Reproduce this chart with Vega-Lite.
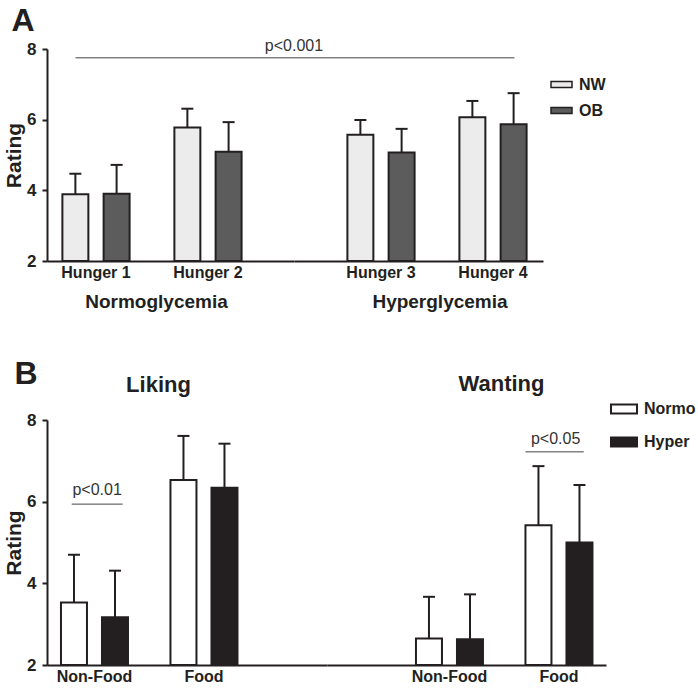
{
  "$schema": "https://vega.github.io/schema/vega-lite/v6.json",
  "padding": {"left": 3, "top": 4, "right": 0, "bottom": 0},
  "background": "white",
  "config": {
    "font": "Liberation Sans",
    "view": {"stroke": null},
    "axis": {
      "domainColor": "#231f20", "domainWidth": 2, "tickColor": "#231f20", "tickWidth": 2, "tickSize": 5,
      "labelFont": "Liberation Sans", "labelFontWeight": "bold", "labelColor": "#231f20",
      "titleFont": "Liberation Sans", "titleFontWeight": "bold", "titleColor": "#231f20", "grid": false
    },
    "axisX": {"ticks": false, "labelAngle": 0, "labelFontSize": 16, "labelPadding": 3, "titleFontSize": 19, "titlePadding": 12},
    "axisY": {"labelFontSize": 17, "labelPadding": 6, "titleFontSize": 21, "titlePadding": 2},
    "legend": {"labelFont": "Liberation Sans", "labelFontWeight": "bold", "labelFontSize": 16, "labelColor": "#231f20"},
    "title": {"font": "Liberation Sans", "fontWeight": "bold", "color": "#231f20"}
  },
  "datasets": {
    "hunger": [
      {"cond": "Normoglycemia", "time": "Hunger 1", "group": "NW", "mean": 3.89, "upper": 4.47},
      {"cond": "Normoglycemia", "time": "Hunger 1", "group": "OB", "mean": 3.9, "upper": 4.72},
      {"cond": "Normoglycemia", "time": "Hunger 2", "group": "NW", "mean": 5.78, "upper": 6.31},
      {"cond": "Normoglycemia", "time": "Hunger 2", "group": "OB", "mean": 5.09, "upper": 5.93},
      {"cond": "Hyperglycemia", "time": "Hunger 3", "group": "NW", "mean": 5.57, "upper": 5.99},
      {"cond": "Hyperglycemia", "time": "Hunger 3", "group": "OB", "mean": 5.07, "upper": 5.74},
      {"cond": "Hyperglycemia", "time": "Hunger 4", "group": "NW", "mean": 6.07, "upper": 6.53},
      {"cond": "Hyperglycemia", "time": "Hunger 4", "group": "OB", "mean": 5.87, "upper": 6.75}
    ],
    "rating": [
      {"measure": "Liking", "stim": "Non-Food", "glyc": "Normo", "mean": 3.53, "upper": 4.7},
      {"measure": "Liking", "stim": "Non-Food", "glyc": "Hyper", "mean": 3.17, "upper": 4.31},
      {"measure": "Liking", "stim": "Food", "glyc": "Normo", "mean": 6.53, "upper": 7.61},
      {"measure": "Liking", "stim": "Food", "glyc": "Hyper", "mean": 6.34, "upper": 7.42},
      {"measure": "Wanting", "stim": "Non-Food", "glyc": "Normo", "mean": 2.65, "upper": 3.67},
      {"measure": "Wanting", "stim": "Non-Food", "glyc": "Hyper", "mean": 2.63, "upper": 3.73},
      {"measure": "Wanting", "stim": "Food", "glyc": "Normo", "mean": 5.42, "upper": 6.87},
      {"measure": "Wanting", "stim": "Food", "glyc": "Hyper", "mean": 5.0, "upper": 6.41}
    ],
    "sig": [
      {"panel": "A1", "time": "Hunger 1", "label": "p<0.001", "y": 7.75},
      {"panel": "A2", "time": "Hunger 4", "label": "p<0.001", "y": 7.75},
      {"panel": "B1", "stim": "Non-Food", "label": "p<0.01", "y": 5.94},
      {"panel": "B2", "stim": "Food", "label": "p<0.05", "y": 7.22}
    ]
  },
  "vconcat": [
    {
      "title": {"text": "A", "fontSize": 32, "anchor": "start", "dx": 8, "offset": 0},
      "spacing": 0,
      "bounds": "flush",
      "resolve": {"scale": {"fill": "independent", "xOffset": "independent"}, "legend": {"fill": "independent"}},
      "hconcat": [
        {
          "width": 247, "height": 212,
          "layer": [
            {
              "data": {"name": "hunger"},
              "transform": [{"filter": "datum.cond === 'Normoglycemia'"}],
              "layer": [
                {
                  "mark": {"type": "bar", "stroke": "#231f20", "strokeWidth": 2},
                  "encoding": {
                    "x": {"field": "time", "type": "nominal", "scale": {"domain": ["Hunger 1", "Hunger 2"], "paddingInner": 0.4, "paddingOuter": 0.3027, "align": 0.227}, "axis": {"title": "Normoglycemia", "titleX": 109}},
                    "xOffset": {"field": "group", "type": "nominal", "scale": {"domain": ["NW", "OB"], "paddingInner": 0.37, "paddingOuter": 0}},
                    "y": {"field": "mean", "type": "quantitative", "scale": {"domain": [2, 8], "nice": false, "zero": false}, "axis": {"title": "Rating", "values": [2, 4, 6, 8]}},
                    "y2": {"datum": 2},
                    "fill": {"field": "group", "type": "nominal", "scale": {"domain": ["NW", "OB"], "range": ["#ececec", "#5c5c5c"]}, "legend": null}
                  }
                },
                {
                  "mark": {"type": "rule", "color": "#231f20", "strokeWidth": 2},
                  "encoding": {
                    "x": {"field": "time", "type": "nominal"},
                    "xOffset": {"field": "group", "type": "nominal"},
                    "y": {"field": "mean", "type": "quantitative"},
                    "y2": {"field": "upper"}
                  }
                },
                {
                  "mark": {"type": "tick", "color": "#231f20", "thickness": 2, "size": 12, "orient": "horizontal", "opacity": 1},
                  "encoding": {
                    "x": {"field": "time", "type": "nominal"},
                    "xOffset": {"field": "group", "type": "nominal"},
                    "y": {"field": "upper", "type": "quantitative"}
                  }
                }
              ]
            },
            {
              "data": {"name": "sig"},
              "transform": [{"filter": "datum.panel === 'A1'"}],
              "layer": [
                {
                  "mark": {"type": "rule", "color": "#444444", "strokeWidth": 1},
                  "encoding": {
                    "x": {"field": "time", "type": "nominal", "bandPosition": 0.195},
                    "x2": {"value": "width"},
                    "y": {"field": "y", "type": "quantitative"}
                  }
                },
                {
                  "mark": {"type": "text", "fontSize": 16, "color": "#333333", "baseline": "alphabetic", "dy": -7},
                  "encoding": {
                    "x": {"value": "width"},
                    "y": {"field": "y", "type": "quantitative"},
                    "text": {"field": "label"}
                  }
                }
              ]
            }
          ]
        },
        {
          "width": 249, "height": 212,
          "layer": [
            {
              "data": {"name": "hunger"},
              "transform": [{"filter": "datum.cond === 'Hyperglycemia'"}],
              "layer": [
                {
                  "mark": {"type": "bar", "stroke": "#231f20", "strokeWidth": 2},
                  "encoding": {
                    "x": {"field": "time", "type": "nominal", "scale": {"domain": ["Hunger 3", "Hunger 4"], "paddingInner": 0.4, "paddingOuter": 0.3116, "align": 0.765}, "axis": {"title": "Hyperglycemia", "titleX": 145.5}},
                    "xOffset": {"field": "group", "type": "nominal", "scale": {"domain": ["NW", "OB"], "paddingInner": 0.37, "paddingOuter": 0}},
                    "y": {"field": "mean", "type": "quantitative", "scale": {"domain": [2, 8], "nice": false, "zero": false}, "axis": null},
                    "y2": {"datum": 2},
                    "fill": {"field": "group", "type": "nominal", "scale": {"domain": ["NW", "OB"], "range": ["#ececec", "#5c5c5c"]},
                      "legend": {"title": null, "orient": "none", "legendX": 256, "legendY": 24, "symbolType": "M-1,-0.286H1V0.286H-1Z", "symbolSize": 441, "symbolStrokeColor": "#231f20", "symbolStrokeWidth": 1.5, "labelOffset": 6, "rowPadding": 6}}
                  }
                },
                {
                  "mark": {"type": "rule", "color": "#231f20", "strokeWidth": 2},
                  "encoding": {
                    "x": {"field": "time", "type": "nominal"},
                    "xOffset": {"field": "group", "type": "nominal"},
                    "y": {"field": "mean", "type": "quantitative"},
                    "y2": {"field": "upper"}
                  }
                },
                {
                  "mark": {"type": "tick", "color": "#231f20", "thickness": 2, "size": 12, "orient": "horizontal", "opacity": 1},
                  "encoding": {
                    "x": {"field": "time", "type": "nominal"},
                    "xOffset": {"field": "group", "type": "nominal"},
                    "y": {"field": "upper", "type": "quantitative"}
                  }
                }
              ]
            },
            {
              "data": {"name": "sig"},
              "transform": [{"filter": "datum.panel === 'A2'"}],
              "mark": {"type": "rule", "color": "#444444", "strokeWidth": 1},
              "encoding": {
                "x": {"field": "time", "type": "nominal", "bandPosition": 0.82},
                "x2": {"value": 0},
                "y": {"field": "y", "type": "quantitative"}
              }
            }
          ]
        }
      ]
    },
    {
      "title": {"text": "B", "fontSize": 32, "anchor": "start", "dx": 11, "offset": -18},
      "spacing": 0,
      "bounds": "flush",
      "resolve": {"scale": {"fill": "independent", "xOffset": "independent"}, "legend": {"fill": "independent"}},
      "hconcat": [
        {
          "width": 280, "height": 245,
          "title": {"text": "Liking", "fontSize": 22, "frame": "group", "anchor": "middle", "dx": -28.5, "offset": 14},
          "layer": [
            {
              "data": {"name": "rating"},
              "transform": [{"filter": "datum.measure === 'Liking'"}],
              "layer": [
                {
                  "mark": {"type": "bar", "stroke": "#231f20", "strokeWidth": 2},
                  "encoding": {
                    "x": {"field": "stim", "type": "nominal", "scale": {"domain": ["Non-Food", "Food"], "paddingInner": 0.388, "paddingOuter": 0.4726, "align": 0.135}, "axis": {"title": null}},
                    "xOffset": {"field": "glyc", "type": "nominal", "scale": {"domain": ["Normo", "Hyper"], "paddingInner": 0.366, "paddingOuter": 0}},
                    "y": {"field": "mean", "type": "quantitative", "scale": {"domain": [2, 8], "nice": false, "zero": false}, "axis": {"title": "Rating", "values": [2, 4, 6, 8]}},
                    "y2": {"datum": 2},
                    "fill": {"field": "glyc", "type": "nominal", "scale": {"domain": ["Normo", "Hyper"], "range": ["#ffffff", "#231f20"]}, "legend": null}
                  }
                },
                {
                  "mark": {"type": "rule", "color": "#231f20", "strokeWidth": 2},
                  "encoding": {
                    "x": {"field": "stim", "type": "nominal"},
                    "xOffset": {"field": "glyc", "type": "nominal"},
                    "y": {"field": "mean", "type": "quantitative"},
                    "y2": {"field": "upper"}
                  }
                },
                {
                  "mark": {"type": "tick", "color": "#231f20", "thickness": 2, "size": 12, "orient": "horizontal", "opacity": 1},
                  "encoding": {
                    "x": {"field": "stim", "type": "nominal"},
                    "xOffset": {"field": "glyc", "type": "nominal"},
                    "y": {"field": "upper", "type": "quantitative"}
                  }
                }
              ]
            },
            {
              "data": {"name": "sig"},
              "transform": [{"filter": "datum.panel === 'B1'"}],
              "layer": [
                {
                  "mark": {"type": "rule", "color": "#444444", "strokeWidth": 1},
                  "encoding": {
                    "x": {"field": "stim", "type": "nominal", "bandPosition": 0.16},
                    "x2": {"field": "stim", "bandPosition": 0.92},
                    "y": {"field": "y", "type": "quantitative"}
                  }
                },
                {
                  "mark": {"type": "text", "fontSize": 16, "color": "#333333", "baseline": "alphabetic", "dy": -9},
                  "encoding": {
                    "x": {"field": "stim", "type": "nominal", "bandPosition": 0.54},
                    "y": {"field": "y", "type": "quantitative"},
                    "text": {"field": "label"}
                  }
                }
              ]
            }
          ]
        },
        {
          "width": 279, "height": 245,
          "title": {"text": "Wanting", "fontSize": 22, "frame": "group", "anchor": "middle", "dx": 35, "offset": -1},
          "layer": [
            {
              "data": {"name": "rating"},
              "transform": [{"filter": "datum.measure === 'Wanting'"}],
              "layer": [
                {
                  "mark": {"type": "bar", "stroke": "#231f20", "strokeWidth": 2},
                  "encoding": {
                    "x": {"field": "stim", "type": "nominal", "scale": {"domain": ["Non-Food", "Food"], "paddingInner": 0.388, "paddingOuter": 0.468, "align": 0.868}, "axis": {"title": null}},
                    "xOffset": {"field": "glyc", "type": "nominal", "scale": {"domain": ["Normo", "Hyper"], "paddingInner": 0.366, "paddingOuter": 0}},
                    "y": {"field": "mean", "type": "quantitative", "scale": {"domain": [2, 8], "nice": false, "zero": false}, "axis": null},
                    "y2": {"datum": 2},
                    "fill": {"field": "glyc", "type": "nominal", "scale": {"domain": ["Normo", "Hyper"], "range": ["#ffffff", "#231f20"]},
                      "legend": {"title": null, "orient": "none", "legendX": 283, "legendY": -25, "symbolType": "M-1,-0.346H1V0.346H-1Z", "symbolSize": 676, "symbolStrokeColor": "#231f20", "symbolStrokeWidth": 2, "labelOffset": 6, "rowPadding": 10}}
                  }
                },
                {
                  "mark": {"type": "rule", "color": "#231f20", "strokeWidth": 2},
                  "encoding": {
                    "x": {"field": "stim", "type": "nominal"},
                    "xOffset": {"field": "glyc", "type": "nominal"},
                    "y": {"field": "mean", "type": "quantitative"},
                    "y2": {"field": "upper"}
                  }
                },
                {
                  "mark": {"type": "tick", "color": "#231f20", "thickness": 2, "size": 12, "orient": "horizontal", "opacity": 1},
                  "encoding": {
                    "x": {"field": "stim", "type": "nominal"},
                    "xOffset": {"field": "glyc", "type": "nominal"},
                    "y": {"field": "upper", "type": "quantitative"}
                  }
                }
              ]
            },
            {
              "data": {"name": "sig"},
              "transform": [{"filter": "datum.panel === 'B2'"}],
              "layer": [
                {
                  "mark": {"type": "rule", "color": "#444444", "strokeWidth": 1},
                  "encoding": {
                    "x": {"field": "stim", "type": "nominal", "bandPosition": 0},
                    "x2": {"field": "stim", "bandPosition": 0.87},
                    "y": {"field": "y", "type": "quantitative"}
                  }
                },
                {
                  "mark": {"type": "text", "fontSize": 16, "color": "#333333", "baseline": "alphabetic", "dy": -8},
                  "encoding": {
                    "x": {"field": "stim", "type": "nominal", "bandPosition": 0.45},
                    "y": {"field": "y", "type": "quantitative"},
                    "text": {"field": "label"}
                  }
                }
              ]
            }
          ]
        }
      ]
    }
  ],
  "spacing": 47
}
